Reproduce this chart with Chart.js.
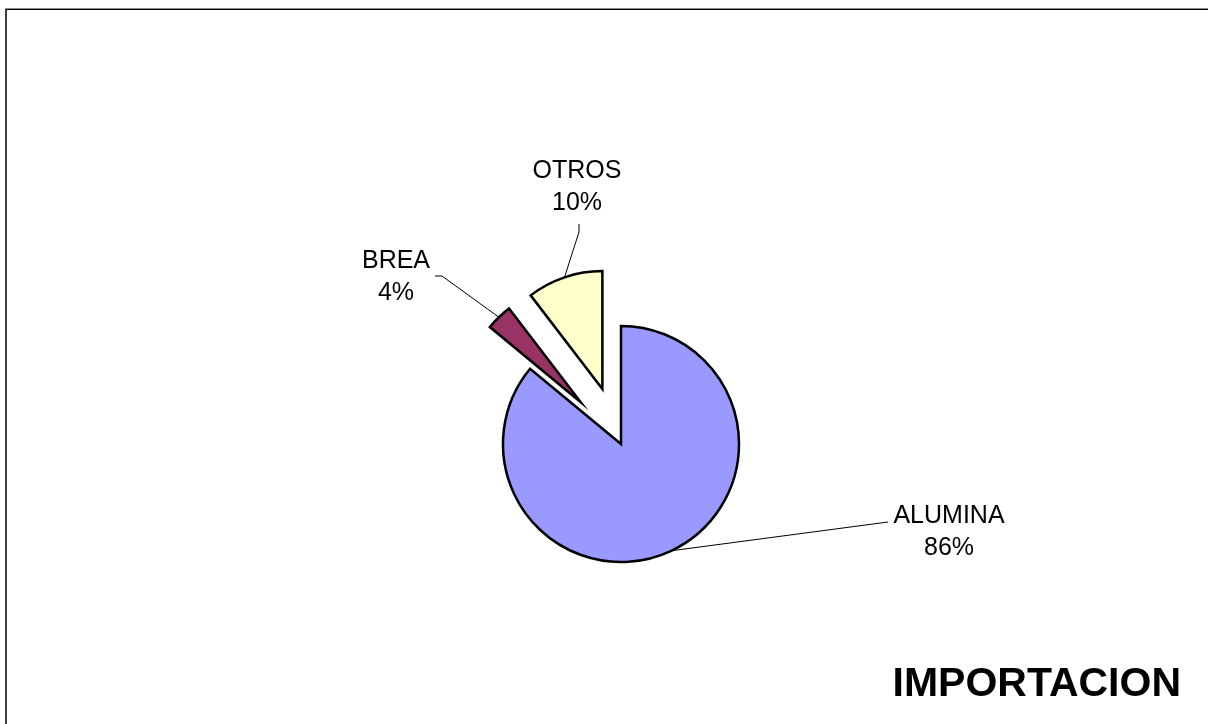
<!DOCTYPE html>
<html>
<head>
<meta charset="utf-8">
<script src="https://cdn.jsdelivr.net/npm/chart.js@4/dist/chart.umd.min.js"></script>
<style>
  html, body { margin: 0; padding: 0; background: #fff; }
  #chart { display: block; }
</style>
</head>
<body>
<canvas id="chart" width="1208" height="724"></canvas>
<script>
// Pie data (shares in %)
const categories = ['ALUMINA', 'BREA', 'OTROS'];
const shares = [86, 3.6, 10.4];
const chartTitle = 'IMPORTACION';

const sliceColors = ['#9999FF', '#993366', '#FFFFCC'];
const explodeDist = [0, 58, 58];

// label layout: text centre x, first baseline y, leader line points after the slice edge
const labelLayout = [
  { x: 949, y: 523, path: [[888, 522]] },
  { x: 396, y: 268, path: [[442, 276], [435, 276]] },
  { x: 577, y: 178, path: [[579, 232], [579, 224]] }
];

const FONT = '"Liberation Sans", Arial, sans-serif';

// push exploded slices outwards along their mid angle, keep the radius
const explodePlugin = {
  id: 'explode',
  afterDatasetsUpdate(chart, args, opts) {
    chart.getDatasetMeta(0).data.forEach((arc, i) => {
      const d = opts.distance[i] || 0;
      const mid = (arc.startAngle + arc.endAngle) / 2;
      arc.x += Math.cos(mid) * d;
      arc.y += Math.sin(mid) * d;
    });
  }
};

const decorPlugin = {
  id: 'decor',
  afterDraw(chart) {
    const ctx = chart.ctx;
    const meta = chart.getDatasetMeta(0);
    const total = shares.reduce((a, b) => a + b, 0);
    ctx.save();

    // outer frame (only top and left edges fall inside the picture)
    ctx.fillStyle = '#404040';
    ctx.fillRect(5, 8, 2, chart.height - 8);
    ctx.fillStyle = '#8a8a8a';
    ctx.fillRect(5, 8, chart.width - 5, 1);
    ctx.fillStyle = '#000';
    ctx.fillRect(7, 9, chart.width - 7, 1);

    // leader lines + labels
    meta.data.forEach((arc, i) => {
      const mid = (arc.startAngle + arc.endAngle) / 2;
      const sx = arc.x + Math.cos(mid) * arc.outerRadius;
      const sy = arc.y + Math.sin(mid) * arc.outerRadius;
      const lay = labelLayout[i];
      ctx.strokeStyle = '#000';
      ctx.lineWidth = 1;
      ctx.beginPath();
      ctx.moveTo(sx, sy);
      lay.path.forEach(p => ctx.lineTo(p[0], p[1]));
      ctx.stroke();

      ctx.fillStyle = '#000';
      ctx.font = '25px ' + FONT;
      ctx.textAlign = 'center';
      ctx.textBaseline = 'alphabetic';
      ctx.fillText(categories[i], lay.x, lay.y);
      ctx.fillText(Math.round(shares[i] / total * 100) + '%', lay.x, lay.y + 31.5);
    });

    // title in lower right
    ctx.font = 'bold 41px ' + FONT;
    ctx.textAlign = 'right';
    ctx.fillText(chartTitle, 1181, 696);
    ctx.restore();
  }
};

new Chart(document.getElementById('chart'), {
  type: 'pie',
  data: {
    labels: categories,
    datasets: [{
      data: shares,
      backgroundColor: sliceColors,
      borderColor: '#000',
      borderWidth: 2.5,
      borderJoinStyle: 'miter'
    }]
  },
  options: {
    responsive: false,
    animation: false,
    events: [],
    radius: 118,
    layout: { padding: { left: 34, top: 164, right: 0, bottom: 0 } },
    plugins: {
      legend: { display: false },
      title: { display: false },
      tooltip: { enabled: false },
      explode: { distance: explodeDist }
    }
  },
  plugins: [explodePlugin, decorPlugin]
});
</script>
</body>
</html>
